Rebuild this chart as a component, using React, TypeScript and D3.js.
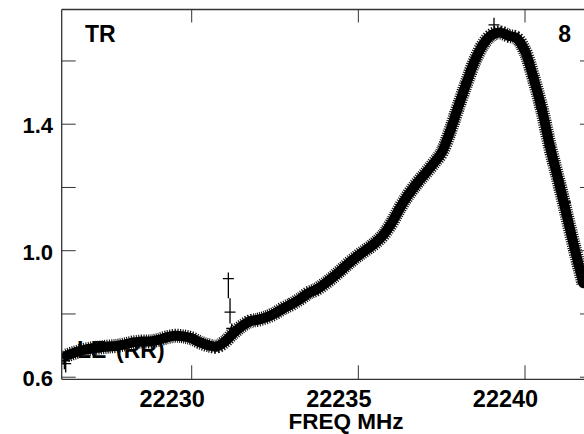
import React from "react";
import * as d3 from "d3";

// ---- data ----
const freqStart = 22226.25;
const freqStep = 0.25;
const values = [
  0.669, 0.678, 0.686, 0.691, 0.694, 0.697, 0.699, 0.704, 0.710, 0.713,
  0.713, 0.718, 0.726, 0.731, 0.729, 0.723, 0.710, 0.701, 0.697, 0.713,
  0.739, 0.761, 0.777, 0.782, 0.790, 0.802, 0.818, 0.831, 0.847, 0.866,
  0.878, 0.896, 0.917, 0.940, 0.964, 0.985, 1.004, 1.024, 1.050, 1.088,
  1.136, 1.177, 1.212, 1.243, 1.275, 1.310, 1.377, 1.456, 1.532, 1.602,
  1.653, 1.682, 1.690, 1.680, 1.672, 1.631, 1.548, 1.450, 1.329, 1.224,
  1.113, 1.002, 0.897,
];
const freqs = values.map((_, i) => freqStart + i * freqStep);
const errBar = 0.015;

// isolated points with their own error bars
const outF = [22226.14, 22226.18, 22226.22, 22231.10, 22231.15, 22231.20, 22239.07];
const outV = [0.662, 0.652, 0.643, 0.912, 0.806, 0.754, 1.714];
const outLo = [0.640, 0.625, 0.615, 0.850, 0.770, 0.740, 1.690];
const outHi = [0.684, 0.675, 0.665, 0.931, 0.850, 0.770, 1.737];

const xTicks = [22230, 22235, 22240];
const yMajor = [0.6, 1.0, 1.4];
const yMinor = [0.6, 0.8, 1.0, 1.2, 1.4, 1.6];
const xDomain = [22226.1, 22242.07];
const yDomain = [0.5934, 1.7627];
const titleLeft = "TR";
const titleRight = "8";
const seriesLabelA = "LE";
const seriesLabelB = "(RR)";
const xTitle = "FREQ MHz";

export default function App() {
  const W = 584, H = 434;
  const left = 61.7, right = 594, top = 9.5, bottom = 379.3;
  const x = d3.scaleLinear().domain(xDomain).range([left, right]);
  const y = d3.scaleLinear().domain(yDomain).range([bottom, top]);
  const line = d3
    .line<number>()
    .x((_, i) => x(freqs[i]))
    .y((d) => y(d))
    .curve(d3.curveCatmullRom.alpha(0.5));
  const pathD = line(values) || "";
  const font = "'Liberation Sans', Arial, Helvetica, sans-serif";
  const axisColor = "#333";
  const tickLen = 14;
  const capW = 11;

  return (
    <svg
      width={W}
      height={H}
      style={{ position: "absolute", left: 0, top: 0, display: "block", background: "#fff" }}
    >
      <rect x={0} y={0} width={W} height={H} fill="#fff" />
      <defs>
        <clipPath id="plot">
          <rect x={left} y={top} width={right - left} height={bottom - top} />
        </clipPath>
      </defs>

      {/* series label under the data */}
      <g fontFamily={font} fontWeight="bold" fontSize={23} fill="#000">
        <text x={77} y={358}>{seriesLabelA}</text>
        <text x={116} y={358}>{seriesLabelB}</text>
      </g>

      <g clipPath="url(#plot)">
        {/* hatched fringe made of error bars / caps */}
        <path
          d={pathD}
          fill="none"
          stroke="#111"
          strokeWidth={14}
          strokeDasharray="1.1 1.2"
          strokeLinejoin="round"
        />
        <path
          d={pathD}
          fill="none"
          stroke="#000"
          strokeWidth={10}
          strokeLinejoin="round"
          strokeLinecap="round"
        />
        {values.map((v, i) => (
          <g key={i} stroke="#000" strokeWidth={1.2}>
            <line x1={x(freqs[i]) - capW / 2} x2={x(freqs[i]) + capW / 2} y1={y(v)} y2={y(v)} />
            <line x1={x(freqs[i])} x2={x(freqs[i])} y1={y(v - errBar)} y2={y(v + errBar)} />
          </g>
        ))}
        {outV.map((v, i) => (
          <g key={"o" + i} stroke="#000" strokeWidth={1.3}>
            <line x1={x(outF[i]) - capW / 2} x2={x(outF[i]) + capW / 2} y1={y(v)} y2={y(v)} />
            <line x1={x(outF[i])} x2={x(outF[i])} y1={y(outLo[i])} y2={y(outHi[i])} />
          </g>
        ))}
      </g>

      {/* frame */}
      <g stroke={axisColor} strokeWidth={1.3} fill="none">
        <line x1={left} x2={left} y1={top} y2={bottom} />
        <line x1={left} x2={right} y1={top} y2={top} />
        <line x1={left} x2={right} y1={bottom} y2={bottom} />
        <line x1={right} x2={right} y1={top} y2={bottom} />
      </g>

      {/* ticks */}
      <g stroke={axisColor} strokeWidth={1}>
        {xTicks.map((t) => (
          <g key={"xt" + t}>
            <line x1={x(t)} x2={x(t)} y1={bottom} y2={bottom - tickLen} />
            <line x1={x(t)} x2={x(t)} y1={top} y2={top + 13} />
          </g>
        ))}
        {yMinor.map((t) => (
          <g key={"yt" + t}>
            <line x1={left} x2={left + tickLen} y1={y(t)} y2={y(t)} />
            <line x1={right} x2={right - tickLen} y1={y(t)} y2={y(t)} />
          </g>
        ))}
      </g>

      {/* tick labels */}
      <g fontFamily={font} fontWeight="bold" fill="#000">
        {xTicks.map((t) => (
          <text key={"xl" + t} x={x(t) - 19.5} y={406.5} fontSize={23.5} textAnchor="middle">
            {t}
          </text>
        ))}
        {yMajor.map((t) => (
          <text key={"yl" + t} x={53} y={y(t) + 9} fontSize={22} textAnchor="end">
            {t.toFixed(1)}
          </text>
        ))}
        <text x={346} y={429} fontSize={22.5} textAnchor="middle">{xTitle}</text>
        <text x={85} y={42} fontSize={23}>{titleLeft}</text>
        <text x={571} y={42} fontSize={23} textAnchor="end">{titleRight}</text>
      </g>
    </svg>
  );
}
